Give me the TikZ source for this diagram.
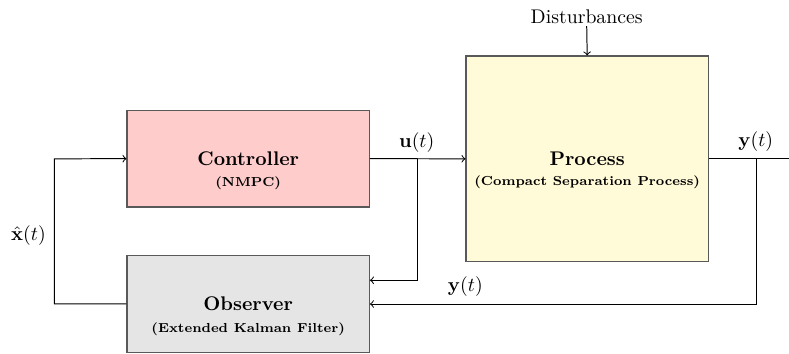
\documentclass[tikz,border=0pt]{standalone}
\usepackage{amsmath}
\definecolor{procfill}{RGB}{255,250,215}
\begin{document}
\begin{tikzpicture}[x=0.506pt,y=-0.506pt,
  block/.style={draw=black!65,line width=0.6pt,minimum width=122.6pt,inner sep=0pt,font=\bfseries},
  sub/.style={font=\fontsize{6.6}{8}\selectfont\bfseries,inner sep=0pt},
  wire/.style={draw=black,line width=0.5pt},
  sig/.style={inner sep=1pt}]
\useasboundingbox (0,0) rectangle (789,354);

% blocks
\node[block,fill=red!20,minimum height=48.9pt] (ctrl) at (248.2,158.7) {Controller};
\node[sub] (ctrlsub) at (248.2,183.3) {(NMPC)};
\node[block,fill=gray!20,minimum height=48.9pt] (obs) at (248.2,303.8) {Observer};
\node[sub] (obssub) at (248.2,329.3) {(Extended Kalman Filter)};
\node[block,fill=procfill,minimum height=104pt] (proc) at (587.2,158.8) {Process};
\node[sub] (procsub) at (587.2,182.7) {(Compact Separation Process)};

% disturbance input
\node[inner sep=1pt] (dist) at (586.7,16.7) {Disturbances};
\draw[wire,->] (dist.south) -- (proc.north);

% branch points and corners
\coordinate (ub) at (417.7,158.8);
\coordinate (ud) at (417.7,280.3);
\coordinate (yb) at (756.7,158.8);
\coordinate (yd) at (756.7,304);
\coordinate (out) at (789,158.8);
\coordinate (xl) at (54.3,304);
\coordinate (xu) at (54.3,158.8);

% forward path
\draw[wire,->] (ctrl.east) -- (proc.west);
\draw[wire] (proc.east) -- (out);
% measured output back to the observer
\draw[wire,->] (yb) -- (yd) -- (yd -| obs.east);
% applied input copied to the observer
\draw[wire,->] (ub) -- (ud) -- (ud -| obs.east);
% state estimate to the controller
\draw[wire,->] (obs.west) -- (xl) -- (xu) -- (ctrl.west);

% signal labels
\node[sig] (lu) at (416.7,142.7) {$\mathbf{u}(t)$};
\node[sig] (ly) at (755.7,141.7) {$\mathbf{y}(t)$};
\node[sig] (lyfb) at (465.3,286.7) {$\mathbf{y}(t)$};
\node[sig] (lx) at (28.5,236) {$\hat{\mathbf{x}}(t)$};
\end{tikzpicture}
\end{document}
